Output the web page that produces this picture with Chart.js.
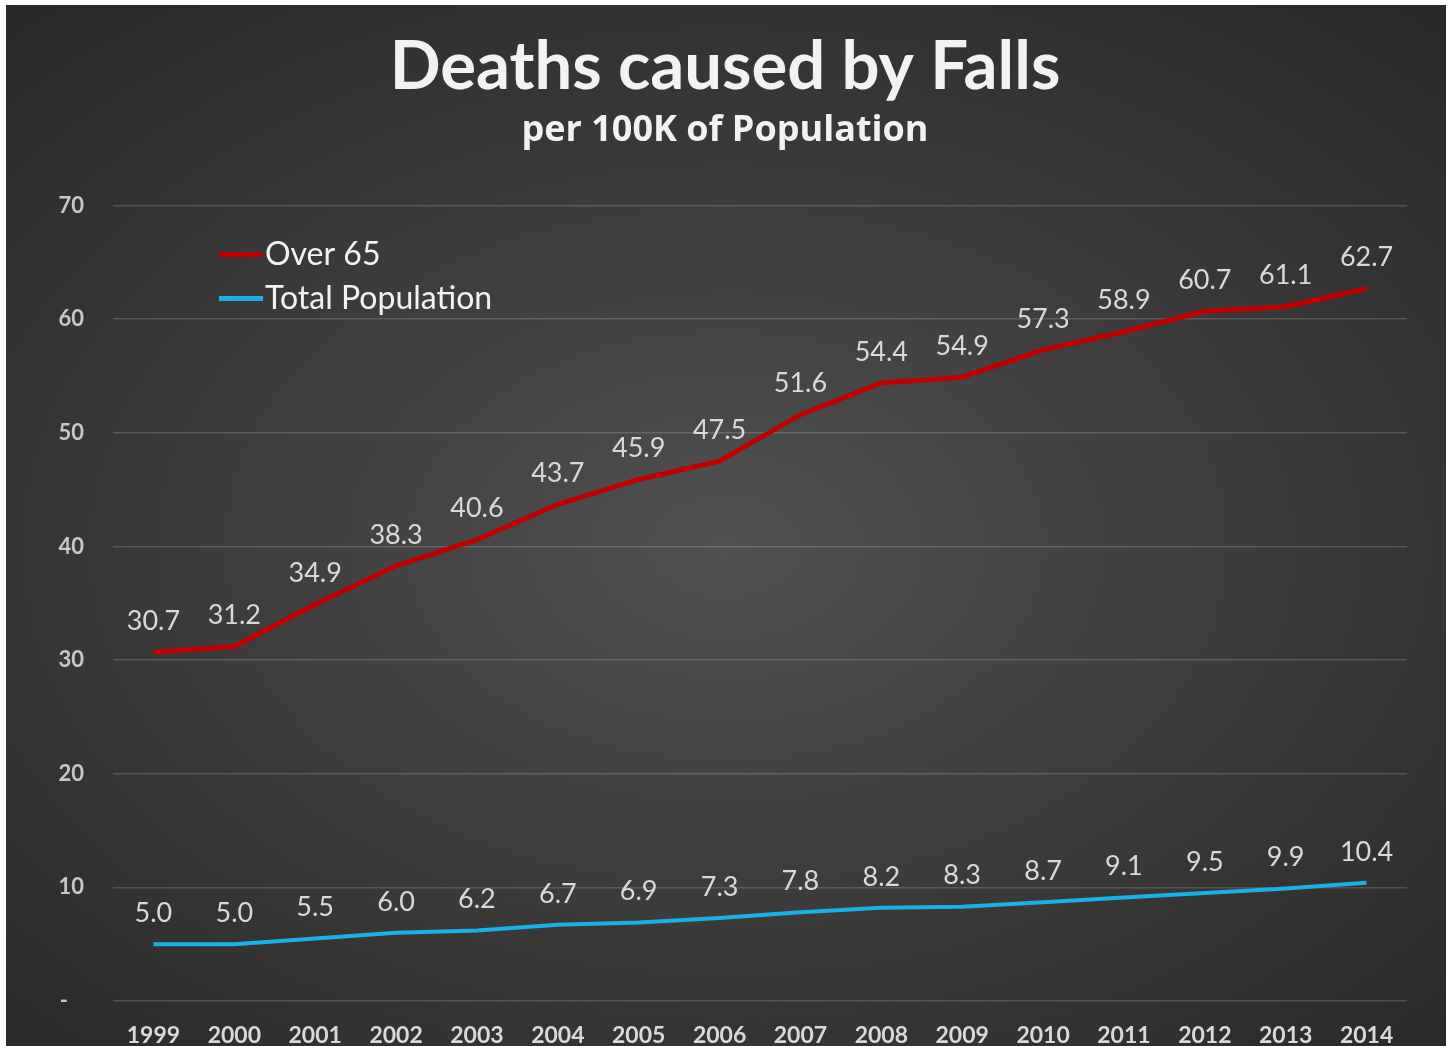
<!DOCTYPE html>
<html>
<head>
<meta charset="utf-8">
<script src="https://cdn.jsdelivr.net/npm/chart.js@4/dist/chart.umd.min.js"></script>
<style>
  html, body { margin: 0; padding: 0; background: #fff; }
  #panel {
    position: absolute; left: 6px; top: 5px; width: 1440px; height: 1041px;
    background: radial-gradient(ellipse 75% 70% at 50% 52%, #505050 0%, #3d3d3d 45%, #282828 100%);
  }
  #chart { display: block; }
</style>
</head>
<body>
<div id="panel"><canvas id="chart" width="1440" height="1041"></canvas></div>
<script>
const years = ['1999', '2000', '2001', '2002', '2003', '2004', '2005', '2006', '2007', '2008', '2009', '2010', '2011', '2012', '2013', '2014'];
const over65 = [30.7, 31.2, 34.9, 38.3, 40.6, 43.7, 45.9, 47.5, 51.6, 54.4, 54.9, 57.3, 58.9, 60.7, 61.1, 62.7];
const totalPop = [5.0, 5.0, 5.5, 6.0, 6.2, 6.7, 6.9, 7.3, 7.8, 8.2, 8.3, 8.7, 9.1, 9.5, 9.9, 10.4];
const yTicks = [0, 10, 20, 30, 40, 50, 60, 70];

const FONT = 'Lato, "Open Sans", sans-serif';

// 점 위에 값 표시
const valueLabels = {
  id: 'valueLabels',
  afterDatasetsDraw(chart) {
    const ctx = chart.ctx;
    ctx.save();
    ctx.font = '27px ' + FONT;
    ctx.fillStyle = '#d9d9d9';
    ctx.textAlign = 'center';
    ctx.textBaseline = 'middle';
    chart.data.datasets.forEach((ds, i) => {
      chart.getDatasetMeta(i).data.forEach((pt, j) => {
        ctx.fillText(ds.data[j].toFixed(1), pt.x, pt.y - 31);
      });
    });
    ctx.restore();
  }
};

// 차트 안쪽 왼쪽 위 범례
const insideLegend = {
  id: 'insideLegend',
  afterDraw(chart) {
    const ctx = chart.ctx;
    const x0 = chart.chartArea.left + 106;
    let y = chart.chartArea.top + 49;
    ctx.save();
    ctx.font = '32px ' + FONT;
    ctx.textBaseline = 'middle';
    chart.data.datasets.forEach(ds => {
      ctx.strokeStyle = ds.borderColor;
      ctx.lineWidth = 5;
      ctx.beginPath();
      ctx.moveTo(x0, y);
      ctx.lineTo(x0 + 44, y);
      ctx.stroke();
      ctx.fillStyle = '#f2f2f2';
      ctx.fillText(ds.label, x0 + 46, y);
      y += 44;
    });
    ctx.restore();
  }
};

new Chart(document.getElementById('chart'), {
  type: 'line',
  data: {
    labels: years,
    datasets: [
      { label: 'Over 65', data: over65, borderColor: '#c00000', borderWidth: 5, pointRadius: 0, tension: 0 },
      { label: 'Total Population', data: totalPop, borderColor: '#19b1ea', borderWidth: 4, pointRadius: 0, tension: 0 }
    ]
  },
  options: {
    responsive: false,
    animation: false,
    layout: { padding: { top: 22, right: 39, left: 37, bottom: 0 } },
    plugins: {
      legend: { display: false },
      tooltip: { enabled: false },
      title: {
        display: true,
        text: 'Deaths caused by Falls',
        color: '#f2f2f2',
        font: { family: FONT, size: 67, weight: 'bold' },
        padding: { top: 0, bottom: 0 }
      },
      subtitle: {
        display: true,
        text: 'per 100K of Population',
        color: '#f2f2f2',
        font: { family: '"Open Sans", sans-serif', size: 36, weight: 'bold' },
        padding: { top: 2, bottom: 53 }
      }
    },
    scales: {
      x: {
        offset: true,
        grid: { display: false },
        border: { display: false },
        ticks: { color: '#d9d9d9', font: { family: FONT, size: 23, weight: 'bold' }, padding: 13, maxRotation: 0 },
        afterFit(scale) { scale.height = 45; }
      },
      y: {
        min: 0,
        max: 70,
        afterBuildTicks(scale) { scale.ticks = yTicks.map(v => ({ value: v })); },
        grid: { color: 'rgba(255,255,255,0.16)', lineWidth: 1.5, drawTicks: false },
        border: { display: false },
        ticks: {
          color: '#c8c8c8',
          font: { family: FONT, size: 22, weight: 'bold' },
          padding: 29,
          callback: v => v === 0 ? '-   ' : v
        },
        afterFit(scale) { scale.width = 70; }
      }
    }
  },
  plugins: [valueLabels, insideLegend]
});
</script>
</body>
</html>
